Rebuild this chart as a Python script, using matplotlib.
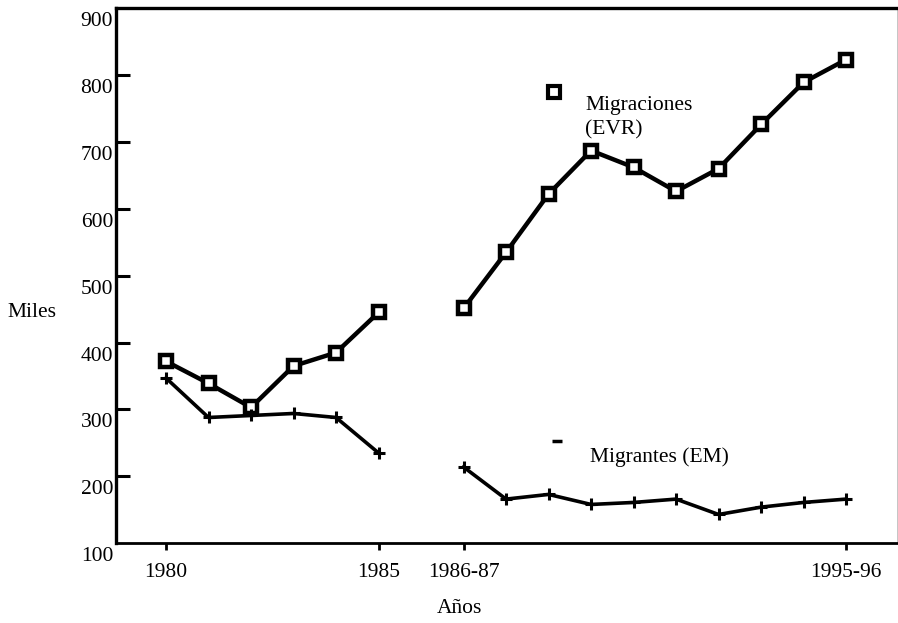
import numpy as np
import matplotlib
matplotlib.use("Agg")
import matplotlib.pyplot as plt
import matplotlib.transforms as mtransforms

plt.rcParams['font.family'] = ['Liberation Serif', 'DejaVu Serif']

# datos (miles)
anios_a = ['1980', '1981', '1982', '1983', '1984', '1985']
anios_b = ['1986-87', '1987-88', '1988-89', '1989-90', '1990-91',
           '1991-92', '1992-93', '1993-94', '1994-95', '1995-96']
evr_a = [372, 339, 303, 365, 385, 445]
evr_b = [451, 535, 622, 687, 662, 626, 660, 726, 789, 823]
em_a = [347, 288, 291, 294, 288, 235]
em_b = [214, 166, 173, 158, 161, 166, 143, 154, 161, 166]
etiquetas_x = ['1980', '1985', '1986-87', '1995-96']
ticks_y = [200, 300, 400, 500, 600, 700, 800, 900]
etiquetas_y = ['100', '200', '300', '400', '500', '600', '700', '800', '900']

fs = 15.5
x_a = np.arange(len(anios_a))
x_b = np.arange(len(anios_b)) + len(anios_a) + 1

fig = plt.figure(figsize=(8.98, 6.23), dpi=100)
ax = fig.add_axes([0.129, 0.128, 0.870, 0.859])

for xs, ys in [(x_a, evr_a), (x_b, evr_b)]:
    ax.plot(xs, ys, color='black', lw=3.2, marker='s', ms=8,
            mfc='white', mec='black', mew=3.2, solid_joinstyle='miter')
for xs, ys in [(x_a, em_a), (x_b, em_b)]:
    ax.plot(xs, ys, color='black', lw=2.6, marker='+', ms=8, mew=2.2)

# leyenda dentro del grafico
ax.plot([9.13], [774], marker='s', ms=8, mfc='white', mec='black', mew=3.0, ls='none')
ax.text(9.86, 768, 'Migraciones\n(EVR)', fontsize=fs, va='top', ha='left', linespacing=1.35)
ax.plot([9.2], [253], marker='_', ms=7, mec='black', mew=2.5, ls='none')
ax.text(9.98, 229, 'Migrantes (EM)', fontsize=fs, va='center', ha='left')

ax.set_xlim(-1.18, 17.2)
ax.set_ylim(100, 900)

ax.set_xticks([x_a[0], x_a[-1], x_b[0], x_b[-1]])
ax.set_xticklabels(etiquetas_x, fontsize=fs)
ax.tick_params(axis='x', direction='out', length=5, width=2, pad=9)

ax.set_yticks([100] + ticks_y)
ax.set_yticklabels(etiquetas_y, fontsize=fs)
ax.tick_params(axis='y', direction='in', length=10, width=2.2, pad=2)
offset = mtransforms.ScaledTranslation(0, -0.11, fig.dpi_scale_trans)
for lab in ax.get_yticklabels():
    lab.set_transform(lab.get_transform() + offset)
ax.yaxis.get_major_ticks()[0].tick1line.set_visible(False)
ax.yaxis.get_major_ticks()[-1].tick1line.set_visible(False)

ax.spines['left'].set_linewidth(2.4)
ax.spines['bottom'].set_linewidth(2.0)
ax.spines['top'].set_linewidth(2.4)
ax.spines['right'].set_linewidth(0.6)
ax.spines['right'].set_color('#bbbbbb')

fig.text(0.008, 0.498, 'Miles', fontsize=fs, va='center', ha='left')
fig.text(0.512, 0.024, 'Años', fontsize=fs, va='center', ha='center')

fig.savefig('out.png', dpi=100)
